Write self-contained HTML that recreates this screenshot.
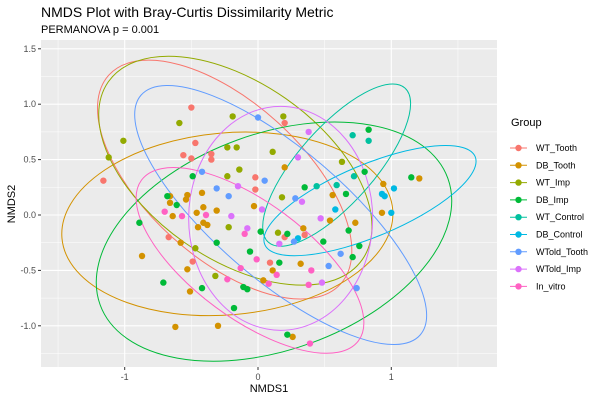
<!DOCTYPE html>
<html><head><meta charset="utf-8"><style>
body{margin:0;background:#fff;font-family:"Liberation Sans",sans-serif}
svg text{font-family:"Liberation Sans",sans-serif}
</style></head><body>
<svg id="chart" width="600" height="400" xmlns="http://www.w3.org/2000/svg">
<rect width="600" height="400" fill="#fff"/>
<text x="41" y="17" font-size="14" fill="#000">NMDS Plot with Bray-Curtis Dissimilarity Metric</text>
<text x="41" y="33" font-size="11" fill="#000">PERMANOVA p = 0.001</text>
<rect x="41" y="40" width="456" height="327" fill="#ebebeb"/>
<g id="grid"></g><g id="ell"></g><g id="pts"></g><g id="axes"></g>
<text x="269" y="392" font-size="11" text-anchor="middle">NMDS1</text>
<text x="15" y="204" font-size="11" text-anchor="middle" transform="rotate(-90 15 204)">NMDS2</text>
<g id="legend"></g>
</svg>
<script>
const groups=["WT_Tooth","DB_Tooth","WT_Imp","DB_Imp","WT_Control","DB_Control","WTold_Tooth","WTold_Imp","In_vitro"];
const colors=["#F8766D","#D39200","#93AA00","#00BA38","#00C19F","#00B9E3","#619CFF","#DB72FB","#FF61C3"];
const xTicks=[-1,0,1];
const yTicks=[-1.0,-0.5,0.0,0.5,1.0,1.5];
const WT_Tooth_x=[-0.50,-0.47,-0.56,-0.50,-0.35,-0.35,-1.16,-0.02,-0.02,0.20,-0.49,0.09,0.20,0.35,-0.67];
const WT_Tooth_y=[0.97,0.65,0.54,0.51,0.55,0.50,0.31,0.34,0.23,0.83,-0.42,-0.43,-0.20,-0.18,-0.20];
const DB_Tooth_x=[-0.66,-0.66,-0.53,-0.54,-0.42,-0.41,-0.03,-0.31,-0.64,-0.46,-0.41,-0.38,-0.45,-0.58,-0.87,-0.53,-0.51,-0.62,-0.30,0.04,0.11,0.20,1.21,0.94,0.56,0.93,0.54,0.73,0.34,0.32,0.26];
const DB_Tooth_y=[0.17,0.11,0.18,0.14,0.20,0.07,0.08,0.04,-0.01,0.02,-0.07,-0.09,-0.11,-0.25,-0.37,-0.49,-0.69,-1.01,-1.00,-0.59,-0.50,0.43,0.33,0.28,0.18,0.02,-0.05,-0.07,-0.12,-0.44,-1.10];
const WT_Imp_x=[-0.59,-1.01,-1.12,-0.19,-0.23,-0.16,-0.14,-0.23,0.11,-0.22,-0.47,-0.32,0.15,0.19,0.63,0.18];
const WT_Imp_y=[0.83,0.67,0.52,0.89,0.61,0.61,0.41,0.35,0.57,-0.11,-0.30,-0.55,-0.16,0.89,0.48,0.16];
const DB_Imp_x=[-0.49,-0.68,-0.61,-0.89,-0.31,-0.06,-0.71,-0.42,-0.11,-0.08,-0.18,0.02,0.16,0.83,0.35,0.66,1.15,0.80,0.22,0.68,0.49,0.76,0.71,0.22];
const DB_Imp_y=[0.35,0.17,0.09,-0.07,-0.25,-0.33,-0.61,-0.66,-0.65,-0.67,-0.84,-0.15,-0.43,0.77,0.25,0.19,0.34,0.39,-0.17,-0.14,-0.24,-0.28,-0.38,-1.08];
const WT_Control_x=[0.71,0.83,0.72,0.44,0.59];
const WT_Control_y=[0.72,0.67,0.35,0.26,0.27];
const DB_Control_x=[1.02,0.93,0.95,0.58,1.00,0.30];
const DB_Control_y=[0.24,0.19,0.17,0.05,0.02,-0.21];
const WTold_Tooth_x=[0.00,-0.42,-0.31,-0.22,0.05,0.28,0.27,0.62,0.53,0.74];
const WTold_Tooth_y=[0.88,0.39,0.24,0.17,0.31,0.15,-0.24,-0.35,-0.46,-0.66];
const WTold_Imp_x=[-0.15,0.03,-0.20,-0.08,0.16,0.38,0.30,0.33,0.47,0.48];
const WTold_Imp_y=[0.26,0.05,-0.01,-0.12,-0.26,0.75,0.52,0.12,-0.03,-0.61];
const In_vitro_x=[-0.70,-0.57,-0.39,-0.10,-0.01,-0.13,-0.23,0.08,0.14,0.40,0.38,0.39];
const In_vitro_y=[0.03,-0.01,0.00,-0.17,-0.40,-0.48,-0.58,-0.62,-0.54,-0.50,-0.63,-1.16];
// ellipse centres (data units)
const ellCx=[-0.25,-0.23,-0.17,0.12,0.59,0.84,0.17,0.17,-0.06];
const ellCy=[0.32,-0.08,0.40,-0.24,0.45,0.13,0.00,-0.03,-0.41];
const seriesX=[WT_Tooth_x,DB_Tooth_x,WT_Imp_x,DB_Imp_x,WT_Control_x,DB_Control_x,WTold_Tooth_x,WTold_Imp_x,In_vitro_x];
const seriesY=[WT_Tooth_y,DB_Tooth_y,WT_Imp_y,DB_Imp_y,WT_Control_y,DB_Control_y,WTold_Tooth_y,WTold_Imp_y,In_vitro_y];
// ellipse shape (pixels): semi-axes and rotation
const shape=[[156,78,42],[166,91,-5],[155,88,35],[185,108,-20],[103,38,-48.5],[114,36,-22.7],[184,65,40.6],[92,112,0],[135,58,36.5]];
const X=v=>258+133.3*v, Y=v=>215-110.8*v;
const NS="http://www.w3.org/2000/svg";
function mk(t,a,p){const e=document.createElementNS(NS,t);for(const k in a)e.setAttribute(k,a[k]);p.appendChild(e);return e;}
const grid=document.getElementById('grid');
[-1.5,-0.5,0.5,1.5].forEach(v=>{const l=mk('line',{x1:X(v),x2:X(v),y1:40,y2:367,stroke:'#fff','stroke-width':0.5},grid);

});
[-1.25,-0.75,-0.25,0.25,0.75,1.25].forEach(v=>{const l=mk('line',{x1:41,x2:497,y1:Y(v),y2:Y(v),stroke:'#fff','stroke-width':0.5},grid);

});
const axes=document.getElementById('axes');
xTicks.forEach(v=>{const l=mk('line',{x1:X(v),x2:X(v),y1:40,y2:367,stroke:'#fff','stroke-width':1.1},grid);


const tk=mk('line',{x1:X(v),x2:X(v),y1:367,y2:370,stroke:'#333'},axes);


const t=mk('text',{x:X(v),y:380,'font-size':9,'text-anchor':'middle',fill:'#4d4d4d'},axes);t.textContent=v;

});
yTicks.forEach(v=>{const l=mk('line',{x1:41,x2:497,y1:Y(v),y2:Y(v),stroke:'#fff','stroke-width':1.1},grid);


const tk=mk('line',{x1:38,x2:41,y1:Y(v),y2:Y(v),stroke:'#333'},axes);


const t=mk('text',{x:36,y:Y(v)+3,'font-size':9,'text-anchor':'end',fill:'#4d4d4d'},axes);t.textContent=v.toFixed(1);

});
const ell=document.getElementById('ell'),pts=document.getElementById('pts'),leg=document.getElementById('legend');
groups.forEach((g,i)=>{
 const s=shape[i];
 const e=mk('ellipse',{cx:0,cy:0,rx:s[0],ry:s[1],fill:'none',stroke:colors[i],'stroke-width':1,transform:`translate(${X(ellCx[i])},${Y(ellCy[i])}) rotate(${s[2]})`},ell);
 
 
 seriesX[i].forEach((xv,j)=>{const c=mk('circle',{cx:X(xv),cy:Y(seriesY[i][j]),r:3.2,fill:colors[i]},pts);
 
 });
 const y=148+i*17.3;
 const kl=mk('line',{x1:510,x2:527,y1:y,y2:y,stroke:colors[i]},leg);
 
 
 const kc=mk('circle',{cx:518.5,cy:y,r:3.2,fill:colors[i]},leg);
 
 
 const t=mk('text',{x:536,y:y+3,'font-size':9,fill:'#000'},leg);t.textContent=g;
 
 
});
const lt=mk('text',{x:511,y:126,'font-size':11,fill:'#000'},leg);lt.textContent='Group';


</script>
</body></html>
